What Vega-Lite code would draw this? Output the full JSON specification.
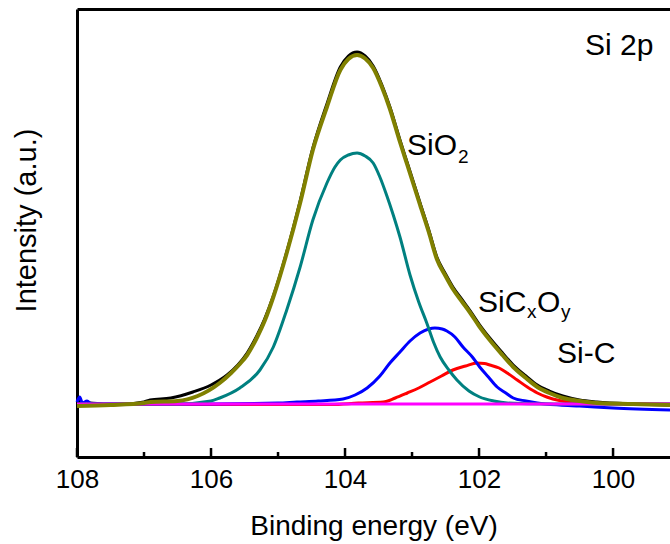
{
  "$schema": "https://vega.github.io/schema/vega-lite/v6.json",
  "width": 593,
  "height": 448,
  "autosize": {"type": "none"},
  "padding": {"left": 77, "top": 9, "right": 0, "bottom": 87},
  "background": "white",
  "config": {"view": {"stroke": null}, "font": "Liberation Sans", "axis": {"grid": false}},
  "datasets": {
    "raw": [
      {"e": 108.0, "i": 53}, {"e": 107.95, "i": 56}, {"e": 107.9, "i": 52}, {"e": 107.8, "i": 54}, {"e": 107.6, "i": 53},
      {"e": 107.3, "i": 53}, {"e": 107.0, "i": 55}, {"e": 106.91, "i": 57}, {"e": 106.6, "i": 59}, {"e": 106.27, "i": 65},
      {"e": 106.0, "i": 72}, {"e": 105.76, "i": 82}, {"e": 105.6, "i": 92}, {"e": 105.46, "i": 104}, {"e": 105.31, "i": 122},
      {"e": 105.2, "i": 138}, {"e": 105.07, "i": 161}, {"e": 104.87, "i": 205}, {"e": 104.67, "i": 256}, {"e": 104.48, "i": 309},
      {"e": 104.27, "i": 353}, {"e": 104.07, "i": 390}, {"e": 103.95, "i": 401}, {"e": 103.82, "i": 405}, {"e": 103.7, "i": 401},
      {"e": 103.58, "i": 391}, {"e": 103.45, "i": 372}, {"e": 103.33, "i": 350}, {"e": 103.18, "i": 317}, {"e": 103.07, "i": 294},
      {"e": 102.88, "i": 254}, {"e": 102.75, "i": 227}, {"e": 102.63, "i": 200}, {"e": 102.5, "i": 183}, {"e": 102.39, "i": 170},
      {"e": 102.25, "i": 157}, {"e": 102.13, "i": 146}, {"e": 102.0, "i": 133}, {"e": 101.84, "i": 119}, {"e": 101.65, "i": 104},
      {"e": 101.49, "i": 92}, {"e": 101.3, "i": 81}, {"e": 101.13, "i": 72}, {"e": 100.95, "i": 66}, {"e": 100.75, "i": 61},
      {"e": 100.5, "i": 57}, {"e": 100.24, "i": 55}, {"e": 99.7, "i": 53}, {"e": 99.15, "i": 52}
    ],
    "sic": [
      {"e": 108.0, "i": 52.5}, {"e": 104.2, "i": 52.5}, {"e": 103.8, "i": 54}, {"e": 103.43, "i": 55}, {"e": 103.25, "i": 59},
      {"e": 103.07, "i": 64}, {"e": 102.9, "i": 69}, {"e": 102.73, "i": 75}, {"e": 102.56, "i": 81}, {"e": 102.39, "i": 87},
      {"e": 102.2, "i": 91}, {"e": 102.03, "i": 94}, {"e": 101.92, "i": 93.5}, {"e": 101.84, "i": 92}, {"e": 101.7, "i": 89},
      {"e": 101.58, "i": 84}, {"e": 101.43, "i": 77}, {"e": 101.28, "i": 70}, {"e": 101.13, "i": 64}, {"e": 100.99, "i": 60},
      {"e": 100.8, "i": 56.5}, {"e": 100.64, "i": 55}, {"e": 100.3, "i": 53.5}, {"e": 99.15, "i": 53}
    ],
    "sicxoy": [
      {"e": 108.0, "i": 55}, {"e": 107.96, "i": 60}, {"e": 107.92, "i": 54}, {"e": 107.85, "i": 56}, {"e": 107.78, "i": 53},
      {"e": 107.5, "i": 53}, {"e": 106.0, "i": 53}, {"e": 105.0, "i": 54}, {"e": 104.72, "i": 55}, {"e": 104.4, "i": 56},
      {"e": 104.03, "i": 58}, {"e": 103.85, "i": 62}, {"e": 103.67, "i": 69}, {"e": 103.48, "i": 81}, {"e": 103.33, "i": 94},
      {"e": 103.18, "i": 105}, {"e": 103.03, "i": 116}, {"e": 102.88, "i": 124}, {"e": 102.75, "i": 128}, {"e": 102.66, "i": 129},
      {"e": 102.55, "i": 128}, {"e": 102.48, "i": 126}, {"e": 102.36, "i": 120}, {"e": 102.24, "i": 110}, {"e": 102.1, "i": 100},
      {"e": 101.99, "i": 90}, {"e": 101.86, "i": 80}, {"e": 101.73, "i": 70}, {"e": 101.6, "i": 64}, {"e": 101.49, "i": 59},
      {"e": 101.3, "i": 56}, {"e": 101.13, "i": 54}, {"e": 100.8, "i": 52}, {"e": 100.5, "i": 51}, {"e": 100.0, "i": 49},
      {"e": 99.15, "i": 47}
    ],
    "sio2": [
      {"e": 108.0, "i": 53}, {"e": 106.5, "i": 53}, {"e": 106.0, "i": 56}, {"e": 105.87, "i": 59}, {"e": 105.57, "i": 69},
      {"e": 105.27, "i": 87}, {"e": 105.07, "i": 110}, {"e": 104.87, "i": 147}, {"e": 104.67, "i": 190}, {"e": 104.48, "i": 237},
      {"e": 104.27, "i": 274}, {"e": 104.15, "i": 290}, {"e": 104.07, "i": 297}, {"e": 103.95, "i": 302}, {"e": 103.82, "i": 304},
      {"e": 103.7, "i": 301}, {"e": 103.58, "i": 294}, {"e": 103.48, "i": 280}, {"e": 103.38, "i": 262}, {"e": 103.28, "i": 242},
      {"e": 103.18, "i": 220}, {"e": 103.03, "i": 182}, {"e": 102.9, "i": 155}, {"e": 102.78, "i": 134}, {"e": 102.68, "i": 115},
      {"e": 102.58, "i": 100}, {"e": 102.45, "i": 87}, {"e": 102.33, "i": 77}, {"e": 102.15, "i": 66}, {"e": 101.99, "i": 60},
      {"e": 101.78, "i": 56}, {"e": 101.58, "i": 54}, {"e": 101.0, "i": 53}, {"e": 99.15, "i": 53}
    ],
    "background": [
      {"e": 108.0, "i": 53}, {"e": 99.15, "i": 53}
    ],
    "fit": [
      {"e": 108.0, "i": 51}, {"e": 107.5, "i": 52}, {"e": 107.0, "i": 54}, {"e": 106.9, "i": 55}, {"e": 106.5, "i": 56},
      {"e": 106.2, "i": 61}, {"e": 105.87, "i": 74}, {"e": 105.7, "i": 84}, {"e": 105.57, "i": 93}, {"e": 105.46, "i": 102},
      {"e": 105.31, "i": 120}, {"e": 105.2, "i": 136}, {"e": 105.07, "i": 160}, {"e": 104.87, "i": 204}, {"e": 104.67, "i": 254},
      {"e": 104.48, "i": 307}, {"e": 104.27, "i": 350}, {"e": 104.07, "i": 387}, {"e": 103.95, "i": 398}, {"e": 103.82, "i": 402},
      {"e": 103.7, "i": 398.5}, {"e": 103.58, "i": 389}, {"e": 103.45, "i": 370}, {"e": 103.33, "i": 348}, {"e": 103.18, "i": 315},
      {"e": 103.07, "i": 292}, {"e": 102.88, "i": 252}, {"e": 102.75, "i": 225}, {"e": 102.63, "i": 198}, {"e": 102.5, "i": 181},
      {"e": 102.39, "i": 168}, {"e": 102.25, "i": 155}, {"e": 102.13, "i": 144}, {"e": 102.0, "i": 131}, {"e": 101.84, "i": 117},
      {"e": 101.65, "i": 102}, {"e": 101.49, "i": 90}, {"e": 101.3, "i": 79}, {"e": 101.13, "i": 70}, {"e": 100.95, "i": 64},
      {"e": 100.75, "i": 59}, {"e": 100.5, "i": 56}, {"e": 100.24, "i": 54}, {"e": 99.7, "i": 53}, {"e": 99.15, "i": 52}
    ],
    "majorTicks": [{"e": 108}, {"e": 106}, {"e": 104}, {"e": 102}, {"e": 100}],
    "minorTicks": [{"e": 107}, {"e": 105}, {"e": 103}, {"e": 101}],
    "labels": [
      {"e": 103.075, "i": 302, "t": "SiO"},
      {"e": 102.015, "i": 145, "t": "SiC"},
      {"e": 101.134, "i": 145, "t": "O"},
      {"e": 100.836, "i": 94, "t": "Si-C"},
      {"e": 100.418, "i": 402, "t": "Si 2p"}
    ],
    "subs": [
      {"e": 102.313, "i": 294, "t": "2"},
      {"e": 101.284, "i": 139, "t": "x"},
      {"e": 100.776, "i": 139, "t": "y"}
    ]
  },
  "resolve": {"axis": {"x": "independent", "y": "independent"}},
  "layer": [
    {
      "data": {"name": "raw"},
      "mark": {"type": "line", "color": "#000000", "strokeWidth": 3, "interpolate": "monotone"},
      "encoding": {
        "x": {"field": "e", "type": "quantitative", "scale": {"domain": [99.15, 108], "reverse": true, "nice": false, "zero": false},
          "axis": {"values": [108, 106, 104, 102, 100], "title": "Binding energy (eV)", "ticks": false,
            "domainWidth": 3, "domainColor": "#000", "labelFontSize": 26, "labelColor": "#000", "labelPadding": 9, "labelFlush": false,
            "titleFontSize": 28, "titleFontWeight": "normal", "titleColor": "#000", "titlePadding": 20}},
        "y": {"field": "i", "type": "quantitative", "scale": {"domain": [0, 448], "nice": false, "zero": false},
          "axis": {"title": "Intensity (a.u.)", "ticks": false, "labels": false, "domainWidth": 3, "domainColor": "#000",
            "titleFontSize": 29, "titleFontWeight": "normal", "titleColor": "#000", "titleX": -42, "titleY": 211, "titleBaseline": "alphabetic", "titleAlign": "center"}}
      }
    },
    {
      "data": {"name": "sic"},
      "mark": {"type": "line", "color": "#ff0000", "strokeWidth": 3, "interpolate": "monotone"},
      "encoding": {
        "x": {"field": "e", "type": "quantitative", "scale": {"domain": [99.15, 108], "reverse": true, "nice": false, "zero": false}, "axis": null},
        "y": {"field": "i", "type": "quantitative", "scale": {"domain": [0, 448], "nice": false, "zero": false}, "axis": null}
      }
    },
    {
      "data": {"name": "sicxoy"},
      "mark": {"type": "line", "color": "#0000ff", "strokeWidth": 3, "interpolate": "monotone"},
      "encoding": {
        "x": {"field": "e", "type": "quantitative", "scale": {"domain": [99.15, 108], "reverse": true, "nice": false, "zero": false},
          "axis": {"orient": "top", "title": null, "labels": false, "ticks": false, "domainWidth": 3, "domainColor": "#000"}},
        "y": {"field": "i", "type": "quantitative", "scale": {"domain": [0, 448], "nice": false, "zero": false}, "axis": null}
      }
    },
    {
      "data": {"name": "sio2"},
      "mark": {"type": "line", "color": "#008080", "strokeWidth": 3, "interpolate": "monotone"},
      "encoding": {
        "x": {"field": "e", "type": "quantitative", "scale": {"domain": [99.15, 108], "reverse": true, "nice": false, "zero": false}, "axis": null},
        "y": {"field": "i", "type": "quantitative", "scale": {"domain": [0, 448], "nice": false, "zero": false}, "axis": null}
      }
    },
    {
      "data": {"name": "background"},
      "mark": {"type": "line", "color": "#ff00ff", "strokeWidth": 3},
      "encoding": {
        "x": {"field": "e", "type": "quantitative", "scale": {"domain": [99.15, 108], "reverse": true, "nice": false, "zero": false}, "axis": null},
        "y": {"field": "i", "type": "quantitative", "scale": {"domain": [0, 448], "nice": false, "zero": false}, "axis": null}
      }
    },
    {
      "data": {"name": "fit"},
      "mark": {"type": "line", "color": "#808000", "strokeWidth": 4, "interpolate": "monotone"},
      "encoding": {
        "x": {"field": "e", "type": "quantitative", "scale": {"domain": [99.15, 108], "reverse": true, "nice": false, "zero": false}, "axis": null},
        "y": {"field": "i", "type": "quantitative", "scale": {"domain": [0, 448], "nice": false, "zero": false}, "axis": null}
      }
    },
    {
      "data": {"name": "majorTicks"},
      "mark": {"type": "rule", "color": "#000", "strokeWidth": 2.5},
      "encoding": {
        "x": {"field": "e", "type": "quantitative", "scale": {"domain": [99.15, 108], "reverse": true, "nice": false, "zero": false}, "axis": null},
        "y": {"datum": 0, "type": "quantitative", "scale": {"domain": [0, 448], "nice": false, "zero": false}, "axis": null},
        "y2": {"datum": 9}
      }
    },
    {
      "data": {"name": "minorTicks"},
      "mark": {"type": "rule", "color": "#000", "strokeWidth": 2.5},
      "encoding": {
        "x": {"field": "e", "type": "quantitative", "scale": {"domain": [99.15, 108], "reverse": true, "nice": false, "zero": false}, "axis": null},
        "y": {"datum": 0, "type": "quantitative", "scale": {"domain": [0, 448], "nice": false, "zero": false}, "axis": null},
        "y2": {"datum": 5}
      }
    },
    {
      "data": {"name": "labels"},
      "mark": {"type": "text", "fontSize": 30, "font": "Liberation Sans", "color": "#000", "align": "left", "baseline": "alphabetic"},
      "encoding": {
        "x": {"field": "e", "type": "quantitative", "scale": {"domain": [99.15, 108], "reverse": true, "nice": false, "zero": false}, "axis": null},
        "y": {"field": "i", "type": "quantitative", "scale": {"domain": [0, 448], "nice": false, "zero": false}, "axis": null},
        "text": {"field": "t"}
      }
    },
    {
      "data": {"name": "subs"},
      "mark": {"type": "text", "fontSize": 19, "font": "Liberation Sans", "color": "#000", "align": "left", "baseline": "alphabetic"},
      "encoding": {
        "x": {"field": "e", "type": "quantitative", "scale": {"domain": [99.15, 108], "reverse": true, "nice": false, "zero": false}, "axis": null},
        "y": {"field": "i", "type": "quantitative", "scale": {"domain": [0, 448], "nice": false, "zero": false}, "axis": null},
        "text": {"field": "t"}
      }
    }
  ]
}
